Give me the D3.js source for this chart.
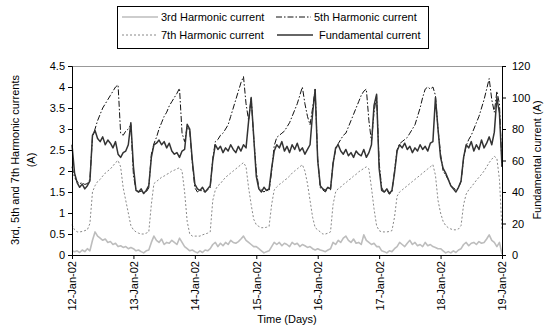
<!DOCTYPE html>
<html><head><meta charset="utf-8">
<script src="https://cdn.jsdelivr.net/npm/d3@7"></script>
<style>body{margin:0;background:#fff}svg{display:block;font-family:"Liberation Sans",Arial,sans-serif}</style>
</head><body><svg id="c" width="548" height="326"></svg>
<script>
// hourly samples starting 12-Jan-2002 00:00
const startDate = new Date(2002, 0, 12);
const xTickLabels = ["12-Jan-02","13-Jan-02","14-Jan-02","15-Jan-02","16-Jan-02","17-Jan-02","18-Jan-02","19-Jan-02"];
const leftTicks = [0,0.5,1,1.5,2,2.5,3,3.5,4,4.5];
const rightTicks = [0,20,40,60,80,100,120];
const seriesNames = ["3rd Harmonic current","5th Harmonic current","7th Harmonic current","Fundamental current"];

const fundamental = [
70,52,46,43,45,42,44,47,76,79,74,72,75,70,73,71,68,72,64,62,65,66,70,84,
56,41,40,42,39,41,44,62,70,71,73,70,72,68,71,66,64,65,62,66,67,83,80,60,
45,42,41,43,40,42,44,60,70,67,69,65,68,66,70,67,65,69,66,70,68,85,100,75,
50,42,40,43,41,42,55,66,70,68,72,66,69,65,70,67,71,66,68,64,67,70,90,105,
60,44,42,41,43,42,58,68,70,66,64,67,63,65,62,66,64,63,67,62,65,70,95,102,
55,41,40,42,39,41,52,66,70,68,71,67,69,65,68,66,70,67,69,66,71,72,100,80,
62,55,52,48,44,42,40,43,47,62,70,68,72,66,70,67,73,68,71,75,70,78,100,90,
56];
const fifth = [
2.1,1.85,1.75,1.7,1.72,1.68,1.7,1.8,2.8,3.0,3.2,3.35,3.5,3.6,3.7,3.8,3.9,4.0,4.05,2.9,2.85,2.95,3.0,3.1,
1.9,1.55,1.5,1.52,1.48,1.5,1.6,2.4,2.65,2.8,3.0,3.15,3.3,3.4,3.55,3.65,3.75,3.85,3.97,2.9,2.7,3.05,2.95,2.2,
1.6,1.5,1.55,1.52,1.5,1.55,1.6,2.3,2.7,2.75,2.85,2.9,3.0,3.1,3.3,3.5,3.7,3.9,4.1,4.25,3.6,3.2,3.75,2.8,
2.0,1.6,1.55,1.5,1.55,1.52,2.0,2.6,2.8,2.85,2.9,2.95,3.05,3.15,3.3,3.45,3.6,3.8,4.0,3.6,3.3,3.1,3.5,3.95,
2.3,1.6,1.55,1.5,1.6,1.55,2.2,2.5,2.65,2.75,2.85,2.9,3.05,3.2,3.35,3.5,3.65,3.8,3.9,3.95,3.2,2.7,3.4,3.8,
2.2,1.6,1.5,1.55,1.45,1.5,2.0,2.5,2.65,2.7,2.75,2.8,2.9,3.0,3.1,3.3,3.5,3.75,3.95,4.0,3.95,4.0,3.8,3.0,
2.4,2.0,1.9,1.8,1.65,1.6,1.55,1.6,1.75,2.3,2.6,2.75,2.85,3.0,3.15,3.3,3.5,3.7,3.95,4.2,3.7,3.4,3.9,3.6,
2.1];
const seventh = [
0.72,0.6,0.55,0.55,0.56,0.58,0.6,0.75,1.5,1.65,1.75,1.8,1.88,1.95,2.0,2.05,2.12,2.2,2.25,2.1,1.6,1.3,1.0,0.7,
0.6,0.55,0.52,0.5,0.5,0.52,0.55,1.2,1.7,1.75,1.8,1.85,1.88,1.92,1.95,2.0,2.02,2.05,2.08,2.0,1.5,0.8,0.5,0.45,
0.45,0.45,0.45,0.48,0.5,0.52,0.55,1.3,1.55,1.65,1.7,1.78,1.85,1.9,1.95,2.0,2.05,2.1,2.15,2.2,2.1,1.6,1.2,0.85,
0.72,0.68,0.65,0.65,0.66,0.68,1.2,1.55,1.62,1.68,1.72,1.78,1.82,1.88,1.95,2.0,2.05,2.1,2.15,2.0,1.7,1.3,0.9,0.65,
0.6,0.55,0.5,0.5,0.52,0.55,1.2,1.5,1.58,1.62,1.68,1.72,1.78,1.82,1.88,1.92,1.98,2.02,2.06,2.1,2.05,1.6,1.1,0.7,
0.58,0.55,0.55,0.55,0.56,0.58,0.9,1.4,1.5,1.55,1.6,1.65,1.7,1.75,1.8,1.85,1.9,1.95,2.0,2.05,2.1,2.15,1.9,1.3,
1.0,0.8,0.7,0.65,0.62,0.6,0.6,0.62,0.7,1.2,1.45,1.55,1.62,1.7,1.78,1.85,1.92,2.0,2.1,2.2,2.28,2.35,2.3,1.8,
0.6];
const third = [
0.1,0.08,0.1,0.06,0.12,0.08,0.15,0.1,0.35,0.55,0.45,0.4,0.35,0.38,0.3,0.32,0.25,0.28,0.2,0.22,0.18,0.2,0.15,0.18,
0.15,0.1,0.12,0.08,0.05,0.1,0.12,0.3,0.45,0.35,0.3,0.38,0.25,0.3,0.28,0.35,0.3,0.25,0.4,0.3,0.2,0.15,0.1,0.12,
0.08,0.05,0.1,0.06,0.12,0.1,0.15,0.25,0.3,0.2,0.28,0.22,0.3,0.25,0.35,0.3,0.28,0.32,0.38,0.45,0.35,0.3,0.25,0.2,
0.2,0.15,0.1,0.05,0.08,0.1,0.2,0.3,0.25,0.3,0.22,0.28,0.25,0.2,0.3,0.25,0.28,0.2,0.25,0.22,0.18,0.2,0.15,0.12,
0.15,0.12,0.1,0.08,0.12,0.15,0.3,0.25,0.35,0.3,0.4,0.45,0.35,0.3,0.38,0.28,0.3,0.25,0.48,0.35,0.3,0.25,0.28,0.2,
0.2,0.1,0.08,0.05,0.1,0.08,0.15,0.2,0.3,0.25,0.2,0.28,0.35,0.25,0.3,0.22,0.25,0.2,0.3,0.22,0.25,0.2,0.18,0.15,
0.15,0.1,0.05,0.08,0.05,0.1,0.06,0.12,0.15,0.25,0.3,0.22,0.28,0.3,0.25,0.32,0.28,0.3,0.38,0.48,0.35,0.3,0.2,0.3,
0.02];

const svg = d3.select("#c");
const L = 72, R = 502, T = 66, B = 255;
const times = fundamental.map((_, i) => d3.timeHour.offset(startDate, i));
const x = d3.scaleTime().domain([startDate, d3.timeDay.offset(startDate, 7)]).range([L, R]);
const yL = d3.scaleLinear().domain([0, 4.5]).range([B, T]);
const yR = d3.scaleLinear().domain([0, 120]).range([B, T]);

// plot frame (top/right light)
svg.append("line").attr("x1", L).attr("x2", R).attr("y1", T+0.5).attr("y2", T+0.5).attr("stroke", "#999").attr("stroke-width", 1);

const lineL = d3.line().x((d,i)=>x(times[i])).y(d=>yL(d));
const lineR = d3.line().x((d,i)=>x(times[i])).y(d=>yR(d));

const styles = [
  {data: third, gen: lineL, stroke: "#bdbdbd", w: 1.6, dash: null},
  {data: fifth, gen: lineL, stroke: "#111", w: 1, dash: "6,2,1.5,2"},
  {data: seventh, gen: lineL, stroke: "#888", w: 1, dash: "2,2"},
  {data: fundamental, gen: lineR, stroke: "#333", w: 1.5, dash: null}
];
styles.forEach(s => {
  svg.append("path").attr("d", s.gen(s.data)).attr("fill", "none")
    .attr("stroke", s.stroke).attr("stroke-width", s.w)
    .attr("stroke-dasharray", s.dash).attr("stroke-linejoin", "round");
});

const fmtL = d => String(d);
const axL = svg.append("g").attr("transform", `translate(${L},0)`)
  .call(d3.axisLeft(yL).tickValues(leftTicks).tickFormat(fmtL).tickSize(4).tickPadding(3));
const axR = svg.append("g").attr("transform", `translate(${R},0)`)
  .call(d3.axisRight(yR).tickValues(rightTicks).tickSize(4).tickPadding(6));
const xTickDates = xTickLabels.map((_, i) => d3.timeDay.offset(startDate, i));
const axB = svg.append("g").attr("transform", `translate(0,${B})`)
  .call(d3.axisBottom(x).tickValues(xTickDates).tickFormat((d,i)=>xTickLabels[i]).tickSize(4));
axB.selectAll("text").attr("transform", "rotate(-90)").attr("text-anchor", "end")
  .attr("x", -6).attr("y", 0).attr("dy", "0.35em");
[axL, axR, axB].forEach(a => {
  a.selectAll("text").attr("font-size", 11).attr("fill", "#000").attr("font-family", "Liberation Sans, Arial, sans-serif");
  a.selectAll("path,line").attr("stroke", "#000");
});

// axis titles
svg.append("text").attr("transform", "translate(19,160) rotate(-90)").attr("text-anchor", "middle")
  .attr("font-size", 11).text("3rd, 5th and 7th Harmonic currents");
svg.append("text").attr("transform", "translate(35,160) rotate(-90)").attr("text-anchor", "middle")
  .attr("font-size", 11).text("(A)");
svg.append("text").attr("transform", "translate(541,160) rotate(-90)").attr("text-anchor", "middle")
  .attr("font-size", 11).text("Fundamental current (A)");
svg.append("text").attr("x", 287).attr("y", 323).attr("text-anchor", "middle")
  .attr("font-size", 11).text("Time (Days)");

// legend
const lg = svg.append("g");
lg.append("rect").attr("x", 117.5).attr("y", 6.5).attr("width", 311).attr("height", 42)
  .attr("fill", "#fff").attr("stroke", "#000");
const legPos = [[122, 158, 161, 17], [276, 311, 314, 17], [122, 158, 161, 35], [277, 313, 319, 35]];
styles.forEach((s, i) => {
  const p = legPos[i];
  lg.append("line").attr("x1", p[0]).attr("x2", p[1]).attr("y1", p[3]).attr("y2", p[3])
    .attr("stroke", s.stroke).attr("stroke-width", s.w).attr("stroke-dasharray", s.dash);
  lg.append("text").attr("x", p[2]).attr("y", p[3]).attr("dy", "0.35em").attr("font-size", 11).text(seriesNames[i]);
});
</script></body></html>
